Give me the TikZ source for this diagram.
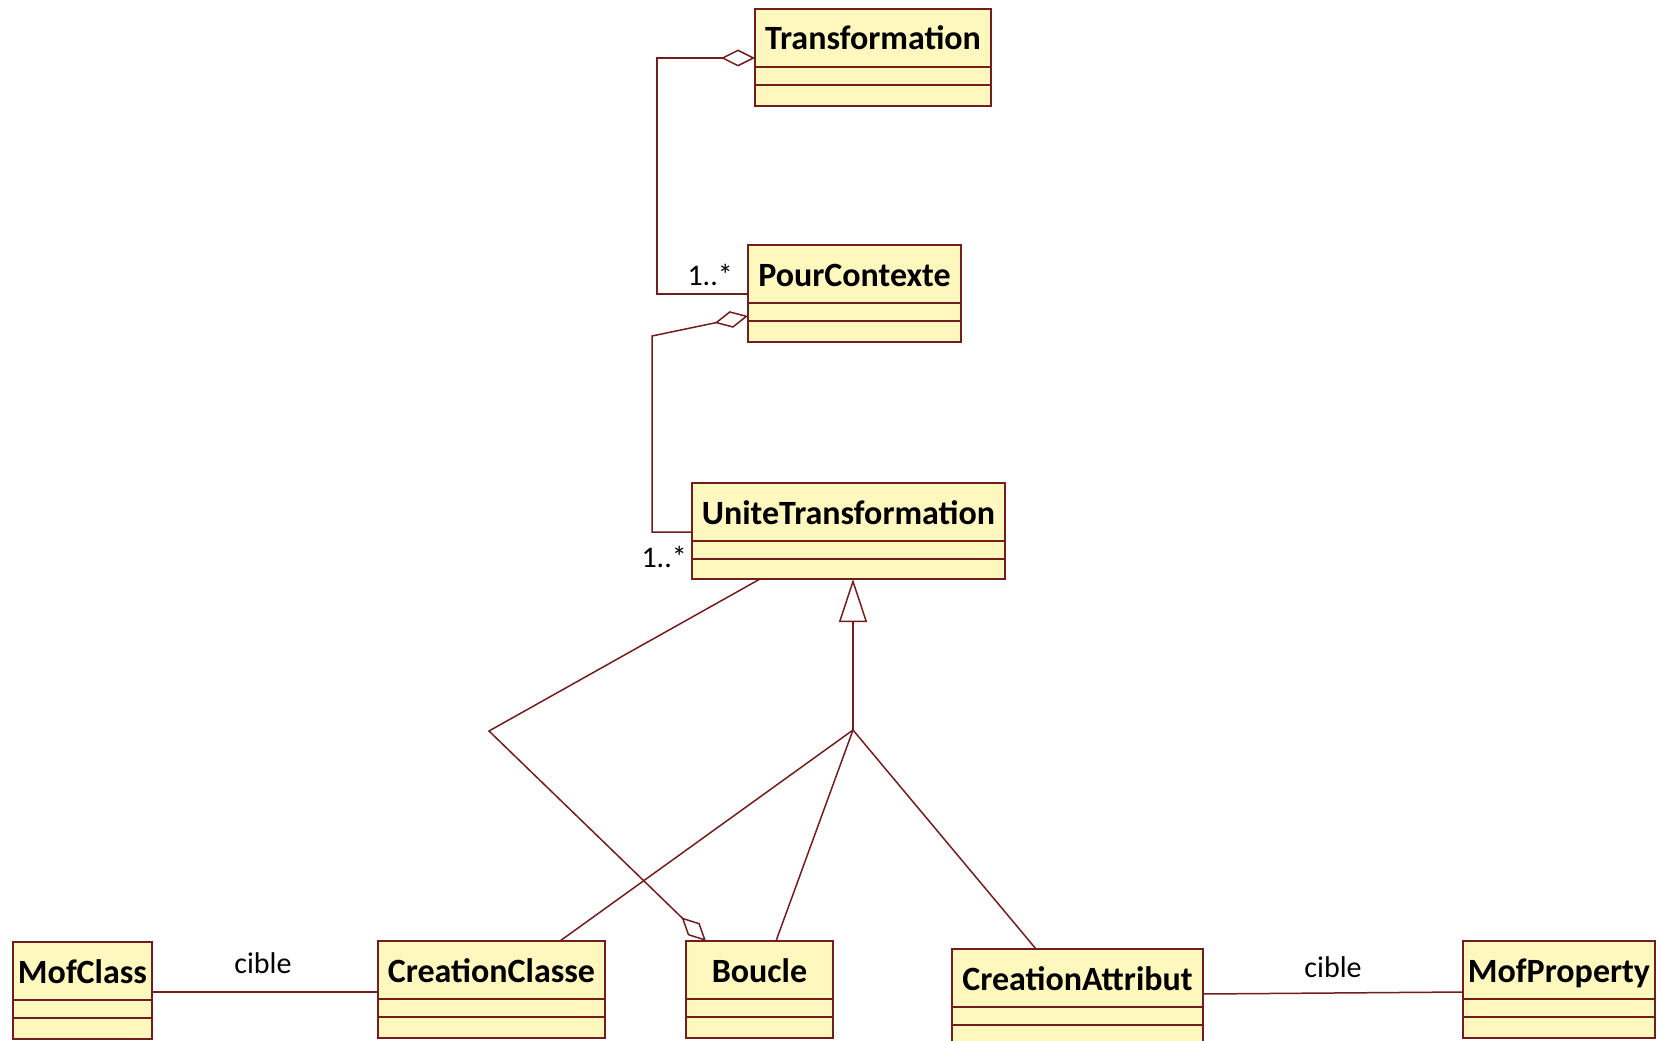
\documentclass[tikz,border=0pt]{standalone}
\usepackage{fontspec}
\setmainfont{Carlito}
\usetikzlibrary{arrows.meta}
\definecolor{umlline}{RGB}{115,30,30}
\definecolor{umlfill}{RGB}{255,248,190}
\tikzset{
  cls/.style={draw=umlline, fill=umlfill, line width=2.2pt, rectangle, inner sep=0pt, outer sep=0pt},
  hdr/.style={font=\fontsize{34}{36}\selectfont\bfseries, inner sep=0pt, anchor=base},
  divline/.style={draw=umlline, line width=1.8pt},
  conn/.style={draw=umlline, line width=1.5pt},
  lbl/.style={font=\fontsize{30}{32}\selectfont, inner sep=0pt, anchor=base},
  agg/.style={-{Diamond[fill=white, length=34pt, width=17pt]}},
  gen/.style={-{Triangle[fill=white, length=43pt, width=28pt]}}
}
\newcommand\umlclass[6]{%
  \node[cls, minimum width=#4pt, minimum height=#5pt, anchor=north west] (#1) at (#2,#3) {};
  \node[hdr] (#1-t) at ([yshift=-41pt]#1.north) {#6};
  \draw[divline] ([yshift=-58pt]#1.north west) -- ([yshift=-58pt]#1.north east);
  \draw[divline] ([yshift=-76pt]#1.north west) -- ([yshift=-76pt]#1.north east);
}
\begin{document}
\begin{tikzpicture}[x=1pt,y=-1pt]
\useasboundingbox (0,0) rectangle (1663,1041);
\fill[white] (0,0) rectangle (1663,1041);

\umlclass{T}{755}{9}{236}{97}{Transformation}
\umlclass{PC}{748}{245}{213}{97}{PourContexte}
\umlclass{UT}{692}{483}{313}{96}{UniteTransformation}
\umlclass{MC}{13}{942}{139}{97}{MofClass}
\umlclass{CC}{378}{941}{227}{97}{CreationClasse}
\umlclass{B}{686}{941}{147}{97}{Boucle}
\umlclass{CA}{952}{949}{251}{97}{CreationAttribut}
\umlclass{MP}{1463}{941}{192}{97}{MofProperty}

% aggregations
\draw[conn, agg] (PC.west |- 0,294) -- (657,294) -- (657,58) -- (T.west |- 0,58);
\draw[conn, agg] (UT.west |- 0,532) -- (652,532) -- (652,336) -- (PC.west |- 0,316);
\draw[conn, agg] (UT.south -| 760,0) -- (489,731) -- (B.north -| 706,0);

% generalization
\coordinate (j) at (853,730);
\draw[conn, gen] (j) -- (UT.south -| 853,0);
\draw[conn] (CC.north -| 560,0) -- (j);
\draw[conn] (B.north -| 776,0) -- (j);
\draw[conn] (CA.north -| 1036,0) -- (j);

% associations
\draw[conn] (MC.east |- 0,992) -- (CC.west |- 0,992);
\draw[conn] (CA.east |- 0,994) -- (MP.west |- 0,992);

% labels
\node[lbl] (c1) at (263,973) {cible};
\node[lbl] (c2) at (1333,977) {cible};
\node[lbl, anchor=base east] (m1) at (733,285) {1..*};
\node[lbl, anchor=base east] (m2) at (687,567) {1..*};
\end{tikzpicture}
\end{document}
